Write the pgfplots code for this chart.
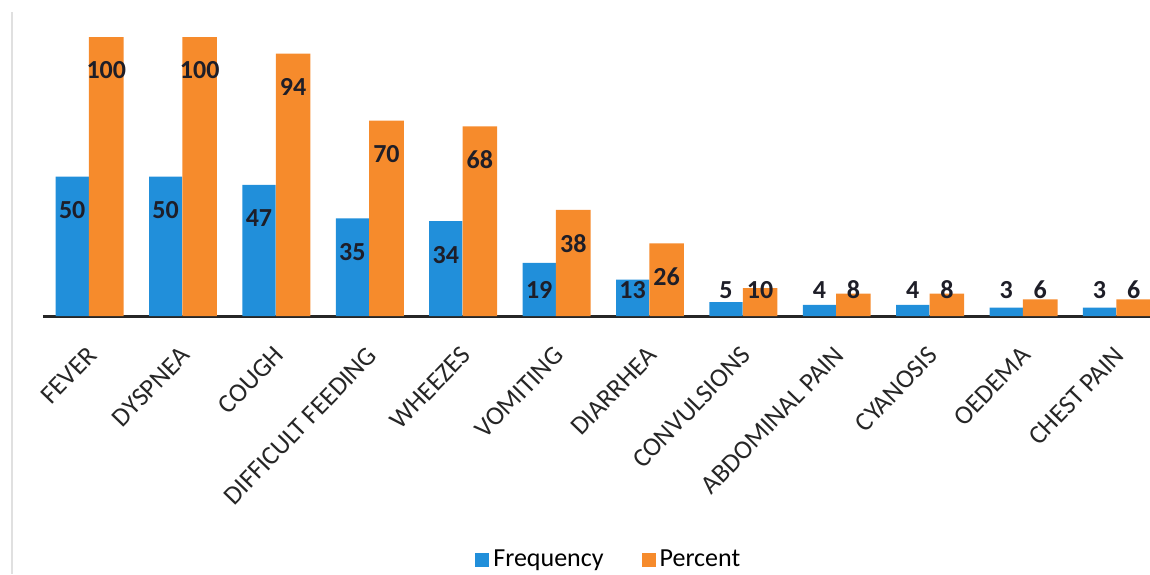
\documentclass[border=0pt]{standalone}
\usepackage{pgfplots}
\usepackage{pgfplotstable}
\pgfplotsset{compat=1.18}
\usepackage{fontspec}
\setmainfont{Carlito}
\definecolor{myblue}{RGB}{33,143,218}
\definecolor{myorange}{RGB}{246,139,44}
\definecolor{labelcol}{RGB}{30,30,40}
\pgfplotstableread{
x f p
0 50 100
1 50 100
2 47 94
3 35 70
4 34 68
5 19 38
6 13 26
7 5 10
8 4 8
9 4 8
10 3 6
11 3 6
}\datatable
\begin{document}
\begin{tikzpicture}
\path[use as bounding box] (0,0) rectangle (575pt,287pt);
\draw[black!12, line width=0.8pt] (6pt,0) -- (6pt,281pt);
\begin{axis}[
  at={(21.5pt,129pt)}, anchor=south west,
  scale only axis, width=553.5pt, height=139.5pt,
  xmin=-0.4925, xmax=11.36, ymin=0, ymax=100,
  axis x line*=bottom, axis y line=none,
  x axis line style={black!85, line width=1.5pt},
  xtick={0,...,11},
  xticklabels={FEVER, DYSPNEA, COUGH, DIFFICULT FEEDING, WHEEZES, VOMITING, DIARRHEA, CONVULSIONS, ABDOMINAL PAIN, CYANOSIS, OEDEMA, CHEST PAIN},
  xticklabel style={xshift=4pt, yshift=-15pt, rotate=46, anchor=east, font=\fontsize{13.2}{15}\selectfont, text=black!85},
  major tick length=0pt,
  ytick={20,40,60,80,100}, yticklabels={},
  ymajorgrids, grid style={black!20, line width=0.7pt},
  clip=true,
  legend style={at={(0.512,-0.875)}, anchor=center, draw=none, fill=none,
    legend columns=2, font=\fontsize{13}{15}\selectfont,
    /tikz/every even column/.append style={column sep=17pt}},
  legend image code/.code={\fill[#1,draw=none] (0pt,-3.5pt) rectangle (7pt,3.5pt);},
]
\addplot[ybar, bar width=0.355, bar shift=-0.18, fill=myblue, draw=none] table[x=x,y=f]{\datatable};
\addlegendentry{Frequency}
\addplot[ybar, bar width=0.37, bar shift=0.185, fill=myorange, draw=none] table[x=x,y=p]{\datatable};
\addlegendentry{Percent}
\addplot[draw=none, mark=none, forget plot, nodes near coords, point meta=explicit symbolic,
  every node near coord/.append style={anchor=center, font=\fontsize{13}{15}\selectfont\bfseries, text=labelcol}]
  table[x expr=\thisrow{x}-0.18, y expr={max(\thisrow{f}-12,9.3)}, meta=f]{\datatable};
\addplot[draw=none, mark=none, forget plot, nodes near coords, point meta=explicit symbolic,
  every node near coord/.append style={anchor=center, font=\fontsize{13}{15}\selectfont\bfseries, text=labelcol}]
  table[x expr=\thisrow{x}+0.185, y expr={max(\thisrow{p}-12,9.3)}, meta=p]{\datatable};
\end{axis}
\end{tikzpicture}
\end{document}
